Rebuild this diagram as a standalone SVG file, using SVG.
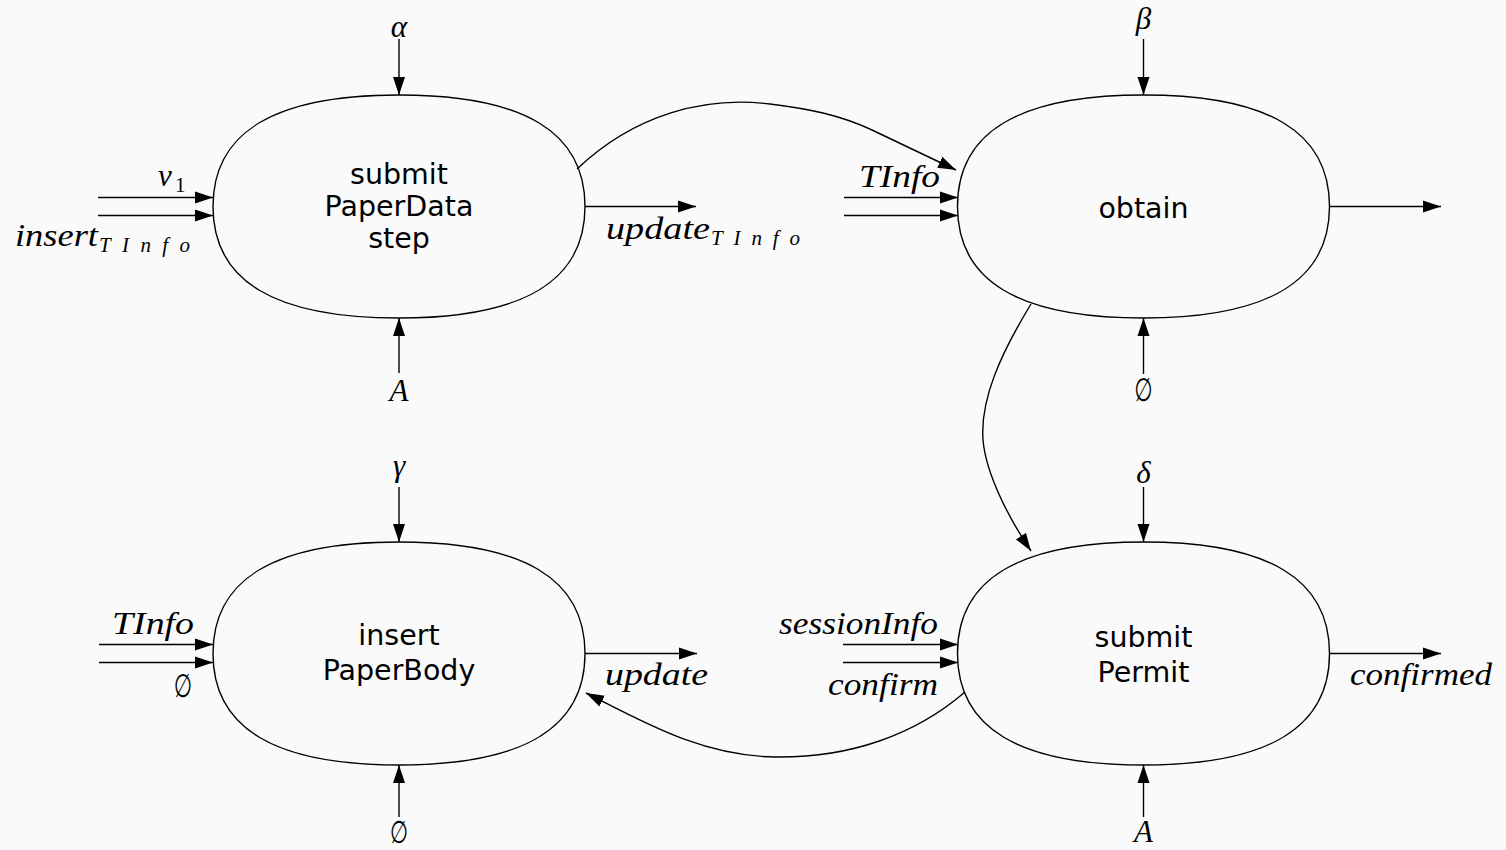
<svg xmlns="http://www.w3.org/2000/svg" xmlns:xlink="http://www.w3.org/1999/xlink" width="1506" height="850" viewBox="0 0 1506 850">
  <style>
    .edge { fill: none; stroke: #000; stroke-width: 1.4; }
    .arrow { marker-end: url(#tip); }
    .shape { fill: none; stroke: #000; stroke-width: 1.4; }
    .name { font-family: "DejaVu Sans", "Liberation Sans", sans-serif; font-size: 28.5px; fill: #000; text-anchor: middle; }
    .math { font-family: "Liberation Serif", "DejaVu Serif", serif; font-style: italic; font-size: 31px; fill: #000; }
    .sub { font-family: "Liberation Serif", "DejaVu Serif", serif; font-style: italic; font-size: 21px; fill: #000; }
    .num { font-family: "Liberation Serif", "DejaVu Serif", serif; font-size: 21px; fill: #000; }
    .empty { font-family: "DejaVu Sans", sans-serif; font-size: 26px; fill: #000; text-anchor: middle; }
    .mid { text-anchor: middle; }
  </style>
  <defs>
    <marker id="tip" markerUnits="userSpaceOnUse" markerWidth="20" markerHeight="14" refX="18" refY="7" orient="auto">
      <path d="M0,1 L18,7 L0,13 Z" fill="#000"/>
    </marker>
    <!-- rounded process outline, centred on the origin -->
    <path id="blob" d="M-186,0 C-186,-74.7 -124.6,-111.5 0,-111.5 C124.6,-111.5 186,-74.7 186,0 C186,74.7 124.6,111.5 0,111.5 C-124.6,111.5 -186,74.7 -186,0 Z"/>
  </defs>

  <rect width="1506" height="850" fill="#fafafa"/>

  <!-- process: submit PaperData step -->
  <g id="submitPaperData">
    <use xlink:href="#blob" href="#blob" class="shape" transform="translate(399,206.5)"/>
    <text class="name" x="399" y="184">submit</text>
    <text class="name" x="399" y="216">PaperData</text>
    <text class="name" x="399" y="248">step</text>
  </g>

  <!-- process: obtain -->
  <g id="obtain">
    <use xlink:href="#blob" href="#blob" class="shape" transform="translate(1143.5,206.5)"/>
    <text class="name" x="1143.5" y="218">obtain</text>
  </g>

  <!-- process: insert PaperBody -->
  <g id="insertPaperBody">
    <use xlink:href="#blob" href="#blob" class="shape" transform="translate(399,653.5)"/>
    <text class="name" x="399" y="645">insert</text>
    <text class="name" x="399" y="680">PaperBody</text>
  </g>

  <!-- process: submit Permit -->
  <g id="submitPermit">
    <use xlink:href="#blob" href="#blob" class="shape" transform="translate(1143.5,653.5)"/>
    <text class="name" x="1143.5" y="647">submit</text>
    <text class="name" x="1143.5" y="682">Permit</text>
  </g>

  <!-- connectors -->
  <g id="connectors">
    <!-- submit PaperData step -->
    <path class="edge arrow" d="M399,39 L399,95"/>
    <path class="edge arrow" d="M399,373 L399,318"/>
    <path class="edge arrow" d="M98,197.5 L213,197.5"/>
    <path class="edge arrow" d="M98,215.5 L213,215.5"/>
    <path class="edge arrow" d="M585,206.5 L696,206.5"/>
    <!-- obtain -->
    <path class="edge arrow" d="M1143.5,39 L1143.5,95"/>
    <path class="edge arrow" d="M1143.5,374 L1143.5,318"/>
    <path class="edge arrow" d="M844,197.5 L958,197.5"/>
    <path class="edge arrow" d="M844,215.5 L958,215.5"/>
    <path class="edge arrow" d="M1330,206.5 L1441,206.5"/>
    <!-- insert PaperBody -->
    <path class="edge arrow" d="M399,487 L399,542"/>
    <path class="edge arrow" d="M399,817 L399,765"/>
    <path class="edge arrow" d="M99,644.5 L213,644.5"/>
    <path class="edge arrow" d="M99,662.5 L213,662.5"/>
    <path class="edge arrow" d="M585,653.5 L697,653.5"/>
    <!-- submit Permit -->
    <path class="edge arrow" d="M1143.5,487 L1143.5,542"/>
    <path class="edge arrow" d="M1143.5,817 L1143.5,765"/>
    <path class="edge arrow" d="M843,644.5 L958,644.5"/>
    <path class="edge arrow" d="M843,662.5 L958,662.5"/>
    <path class="edge arrow" d="M1330,653.5 L1441,653.5"/>
    <!-- flows between processes -->
    <path class="edge arrow" d="M577,169 C635,114 705,96 770,104 C810,109 840,115 872,130 L956,170"/>
    <path class="edge arrow" d="M1031,304 C1000,355 980,400 983,440 C986,475 1010,520 1031,551"/>
    <path class="edge arrow" d="M965,692 C915,735 850,758 775,757 C700,756 640,720 586,693"/>
  </g>

  <!-- connector labels -->
  <g id="labels">
    <text class="math mid" x="399" y="37">α</text>
    <text class="math mid" x="399" y="401">A</text>
    <text class="math" x="158" y="186">v</text>
    <text class="num" x="175" y="192">1</text>
    <text class="math" x="15" y="246" textLength="83" lengthAdjust="spacingAndGlyphs">insert</text>
    <text class="sub" x="99" y="252" textLength="91">TInfo</text>
    <text class="math" x="606" y="239" textLength="104" lengthAdjust="spacingAndGlyphs">update</text>
    <text class="sub" x="711" y="245" textLength="89">TInfo</text>

    <text class="math mid" x="1143.5" y="29">β</text>
    <text class="math" x="859" y="187" textLength="81" lengthAdjust="spacingAndGlyphs">TInfo</text>
    <text class="empty" transform="translate(1143.5,401) scale(0.8,1.25)">∅</text>

    <text class="math mid" x="399" y="476">γ</text>
    <text class="math" x="112" y="634" textLength="82" lengthAdjust="spacingAndGlyphs">TInfo</text>
    <text class="empty" transform="translate(183,697) scale(0.8,1.25)">∅</text>
    <text class="math" x="605" y="685" textLength="103" lengthAdjust="spacingAndGlyphs">update</text>
    <text class="empty" transform="translate(399,843) scale(0.8,1.2)">∅</text>

    <text class="math mid" x="1143.5" y="483">δ</text>
    <text class="math" x="779" y="634" textLength="159" lengthAdjust="spacingAndGlyphs">sessionInfo</text>
    <text class="math" x="828" y="695" textLength="110" lengthAdjust="spacingAndGlyphs">confirm</text>
    <text class="math" x="1350" y="685" textLength="142" lengthAdjust="spacingAndGlyphs">confirmed</text>
    <text class="math mid" x="1143.5" y="842">A</text>
  </g>
</svg>
